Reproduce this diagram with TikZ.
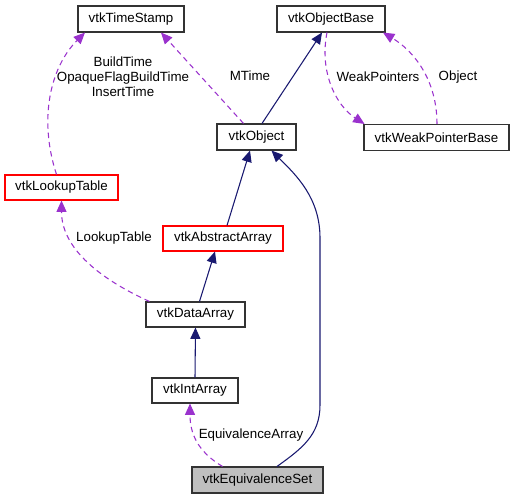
\documentclass[tikz,border=0pt]{standalone}
\usepackage{fontspec}
\setmainfont{Liberation Sans}
\usetikzlibrary{arrows.meta,calc}
\definecolor{inhcol}{RGB}{25,25,112}
\definecolor{usecol}{RGB}{154,50,205}
\begin{document}
\begin{tikzpicture}[x=0.75pt,y=-0.75pt,
  font=\fontsize{10}{12}\selectfont,
  box/.style={draw=black!80,line width=0.8pt,fill=white,inner sep=0pt,anchor=center},
  redbox/.style={box,draw=red},
  inh/.style={draw=inhcol,line width=0.8pt,-{Triangle[length=8.5pt,width=7.5pt,fill=inhcol]}},
  use/.style={draw=usecol,line width=0.8pt,dash pattern=on 4pt off 3pt,-{Triangle[length=8.5pt,width=7.5pt,fill=usecol]}},
  lbl/.style={inner sep=0pt,align=center}]
\useasboundingbox (0,0) rectangle (514,499);
\node[box,minimum width=79.5pt,minimum height=19.5pt] (ts) at (131,19) {vtkTimeStamp};
\node[box,minimum width=81pt,minimum height=19.5pt] (objbase) at (331,19) {vtkObjectBase};
\node[box,minimum width=59.25pt,minimum height=19.5pt] (obj) at (256.5,137) {vtkObject};
\node[box,minimum width=108.75pt,minimum height=19.5pt] (wpb) at (436.5,137.5) {vtkWeakPointerBase};
\node[redbox,minimum width=84.75pt,minimum height=18.75pt] (lut) at (61.5,187.5) {vtkLookupTable};
\node[redbox,minimum width=90pt,minimum height=18.75pt] (aa) at (223,238.5) {vtkAbstractArray};
\node[box,minimum width=74.25pt,minimum height=18.75pt] (da) at (195.5,314.5) {vtkDataArray};
\node[box,minimum width=64.5pt,minimum height=18.75pt] (ia) at (195,390.5) {vtkIntArray};
\node[box,fill=black!25,minimum width=98.25pt,minimum height=19.5pt] (eqs) at (257.5,480) {vtkEquivalenceSet};

% inheritance
\draw[inh] ($(obj.north)+(5.5,0)$) -- ($(objbase.south)+(-9,0)$);
\draw[inh] ($(aa.north)+(4,0)$) -- ($(obj.south)+(-6.5,0)$);
\draw[inh] ($(da.north)+(4,0)$) -- ($(aa.south)+(-8,0)$);
\draw[inh] (ia.north) -- (da.south);
\draw[inh] ($(eqs.north)+(19.5,0)$) .. controls +(25,-18) and +(0,30) .. (320,405) -- (320,238) .. controls +(0,-40) and +(25,25) .. ($(obj.south)+(15,0)$);

% usage
\draw[use] ($(obj.north)+(-13,0)$) -- ($(ts.south)+(30,0)$);
\node[lbl] (mtime) at (250,76) {MTime};
\draw[use] ($(objbase.south)+(-4,0)$) .. controls +(-8,40) and +(-28,-18) .. ($(wpb.north)+(-72,0)$);
\node[lbl] (wp) at (378,77) {WeakPointers};
\draw[use] ($(wpb.north)+(0.5,0)$) .. controls +(0,-45) and +(30,18) .. ($(objbase.south)+(52,0)$);
\node[lbl] (objl) at (458,77) {Object};
\draw[use] ($(lut.north)+(-5,0)$) .. controls +(-18,-55) and +(-35,35) .. ($(ts.south)+(-46,0)$);
\node[lbl] (bt) at (123,77) {BuildTime\\[-0.6pt]OpaqueFlagBuildTime\\[-0.6pt]InsertTime};
\draw[use] ($(da.north west)+(4,0)$) .. controls +(-55,-25) and +(0,45) .. ($(lut.south)+(0,0)$);
\node[lbl] (ltl) at (114,238) {LookupTable};
\draw[use] ($(eqs.north)+(-35,0)$) .. controls +(-25,-15) and +(0,30) .. ($(ia.south)+(-5,0)$);
\node[lbl] (eql) at (251,435) {EquivalenceArray};
\end{tikzpicture}
\end{document}
